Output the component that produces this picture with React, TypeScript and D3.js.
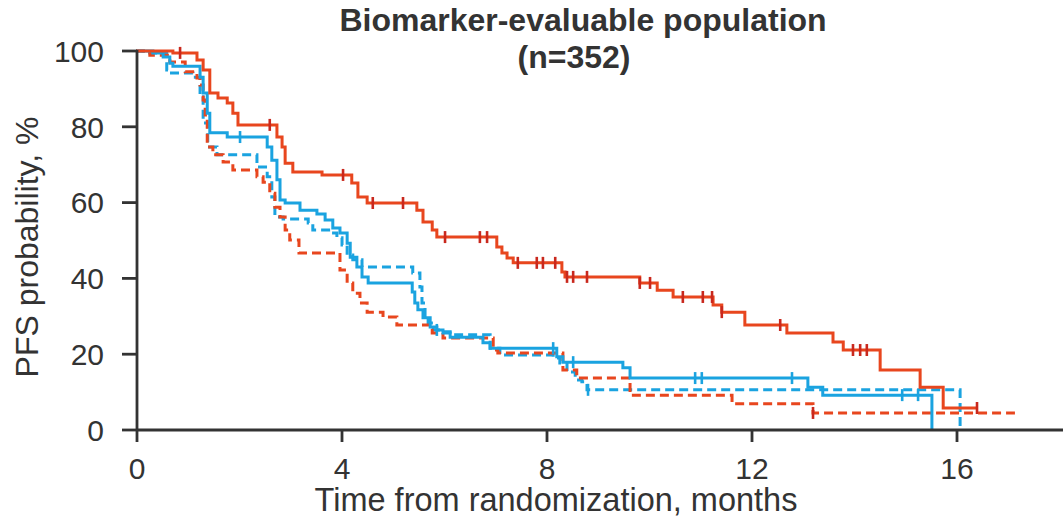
import React from 'react';
import * as d3 from 'd3';

const titleLines = ['Biomarker-evaluable population', '(n=352)'];
const xLabel = 'Time from randomization, months';
const yLabel = 'PFS probability, %';
const xTicks = [0, 4, 8, 12, 16];
const yTicks = [0, 20, 40, 60, 80, 100];

// Red solid arm
const redSolidTime = [0, 0.72, 1.19, 1.31, 1.44, 1.6, 1.78, 1.89, 1.99, 2.75, 2.85, 2.91, 3.06, 3.63, 4.21, 4.33, 4.51, 5.48, 5.6, 5.78, 5.87, 7.04, 7.14, 7.24, 7.36, 8.31, 8.37, 9.83, 10.17, 10.48, 11.26, 11.43, 11.88, 12.7, 13.6, 13.8, 14.52, 15.3, 15.75];
const redSolidSurv = [100, 99.5, 97.6, 95.0, 88.9, 87.6, 86.3, 83.6, 80.5, 77.3, 74.7, 70.4, 68.1, 67.3, 65.2, 61.5, 59.9, 58.0, 54.9, 52.8, 50.9, 48.3, 46.7, 45.4, 44.1, 41.7, 40.4, 38.8, 36.9, 35.1, 33.0, 31.1, 27.7, 25.6, 23.2, 21.1, 15.8, 11.3, 5.8];
const redSolidEnd = 16.41;
const redSolidCensor = [0.86, 2.61, 4.04, 4.62, 5.21, 6.03, 6.71, 6.85, 7.45, 7.82, 7.94, 8.18, 8.41, 8.53, 8.8, 9.83, 10.03, 10.67, 11.06, 11.24, 11.43, 12.57, 13.99, 14.13, 14.26, 16.41];

// Red dashed arm
const redDashTime = [0, 0.27, 0.66, 0.96, 1.19, 1.25, 1.31, 1.35, 1.39, 1.5, 1.7, 1.89, 2.36, 2.48, 2.61, 2.71, 2.81, 2.91, 3.0, 3.18, 3.98, 4.12, 4.23, 4.37, 4.51, 4.82, 5.09, 5.78, 5.99, 6.97, 7.06, 8.33, 8.6, 9.64, 11.63, 13.21];
const redDashSurv = [100, 98.9, 97.1, 94.5, 92.9, 91.0, 87.1, 83.1, 74.7, 72.6, 70.7, 68.6, 66.8, 65.4, 62.5, 58.8, 56.2, 52.8, 50.1, 46.7, 42.2, 38.8, 36.1, 33.5, 31.1, 29.8, 27.7, 25.6, 24.3, 21.1, 20.3, 15.8, 13.7, 9.2, 6.9, 4.5];
const redDashEnd = 17.15;
const redDashCensor = [13.21];

// Blue solid arm
const blueSolidTime = [0, 0.33, 0.53, 0.66, 0.72, 1.25, 1.31, 1.39, 1.44, 1.78, 2.56, 2.65, 2.75, 2.81, 2.91, 3.2, 3.53, 3.69, 3.84, 3.98, 4.12, 4.18, 4.31, 4.41, 4.53, 5.39, 5.44, 5.5, 5.6, 5.74, 5.87, 5.99, 6.13, 6.77, 6.91, 8.21, 8.33, 9.5, 9.64, 13.11, 13.4, 15.53];
const blueSolidSurv = [100, 99.5, 98.4, 96.8, 96.0, 93.1, 88.9, 83.6, 78.4, 77.3, 74.7, 71.2, 66.0, 60.7, 59.9, 58.0, 57.0, 55.4, 53.3, 52.0, 49.3, 45.6, 43.0, 40.4, 38.8, 36.4, 33.5, 31.7, 29.6, 27.2, 26.4, 25.6, 24.5, 23.0, 21.6, 19.3, 17.9, 16.4, 13.7, 11.3, 9.2, 0];
const blueSolidEnd = 15.53;
const blueSolidCensor = [2.03, 5.87, 8.14, 8.53, 10.91, 11.04, 12.8, 14.95, 15.26];

// Blue dashed arm
const blueDashTime = [0, 0.14, 0.6, 0.66, 1.11, 1.25, 1.31, 1.4, 1.58, 2.36, 2.56, 2.65, 2.71, 2.87, 3.36, 3.45, 3.79, 3.92, 4.02, 4.12, 4.23, 4.41, 5.4, 5.54, 5.58, 5.64, 5.7, 5.8, 5.99, 6.13, 6.91, 7.1, 8.14, 8.27, 8.41, 8.57, 8.7, 8.8, 16.08];
const blueDashSurv = [100, 99.5, 95.0, 94.2, 93.1, 87.9, 81.0, 74.7, 72.6, 69.4, 66.8, 61.5, 56.2, 55.7, 54.6, 52.8, 52.0, 50.7, 48.8, 46.2, 44.9, 43.0, 41.4, 37.7, 33.5, 29.8, 28.2, 26.4, 25.9, 25.1, 21.6, 19.8, 19.0, 17.7, 15.3, 13.2, 12.7, 10.6, 0];
const blueDashEnd = 16.08;
const blueDashCensor = [8.82];

const RED = '#E8461E';
const RED_CENSOR = '#C9281D';
const BLUE = '#1AA3E0';
const AXIS = '#333333';
const FONT = 'Liberation Sans, Arial, sans-serif';

type Series = { time: number[]; surv: number[]; end: number; censor: number[]; color: string; censorColor: string; dashed: boolean };

const series: Series[] = [
  { time: blueDashTime, surv: blueDashSurv, end: blueDashEnd, censor: blueDashCensor, color: BLUE, censorColor: BLUE, dashed: true },
  { time: redDashTime, surv: redDashSurv, end: redDashEnd, censor: redDashCensor, color: RED, censorColor: RED_CENSOR, dashed: true },
  { time: blueSolidTime, surv: blueSolidSurv, end: blueSolidEnd, censor: blueSolidCensor, color: BLUE, censorColor: BLUE, dashed: false },
  { time: redSolidTime, surv: redSolidSurv, end: redSolidEnd, censor: redSolidCensor, color: RED, censorColor: RED_CENSOR, dashed: false },
];

export default function App() {
  const W = 1063, H = 520;
  const x = d3.scaleLinear().domain([0, 16]).range([136, 956]);
  const y = d3.scaleLinear().domain([0, 100]).range([430, 51]);
  const line = d3.line<[number, number]>().x(d => x(d[0])).y(d => y(d[1])).curve(d3.curveStepAfter);

  const survAt = (s: Series, t: number) => {
    const i = Math.max(0, d3.bisectRight(s.time, t) - 1);
    return s.surv[i];
  };

  return (
    <svg width={W} height={H} style={{ position: 'absolute', left: 0, top: 0, background: '#fff' }} fontFamily={FONT}>
      {/* title */}
      <text x={583} y={31} textAnchor="middle" fontSize={32} fontWeight="bold" fill={AXIS}>{titleLines[0]}</text>
      <text x={574} y={68} textAnchor="middle" fontSize={32} fontWeight="bold" fill={AXIS}>{titleLines[1]}</text>

      {/* curves */}
      {series.map((s, k) => {
        const pts: [number, number][] = s.time.map((t, i) => [t, s.surv[i]] as [number, number]);
        pts.push([s.end, s.surv[s.surv.length - 1]]);
        return (
          <g key={k}>
            <path d={line(pts) || ''} fill="none" stroke={s.color} strokeWidth={3} strokeDasharray={s.dashed ? '9,5' : undefined} />
            {s.censor.map((c, j) => (
              <line key={j} x1={x(c)} x2={x(c)} y1={y(survAt(s, c)) - 6} y2={y(survAt(s, c)) + 6} stroke={s.censorColor} strokeWidth={2.6} />
            ))}
          </g>
        );
      })}

      {/* axes */}
      <line x1={137} x2={137} y1={50} y2={431} stroke={AXIS} strokeWidth={2.8} />
      <line x1={136} x2={W} y1={430} y2={430} stroke={AXIS} strokeWidth={2.8} />
      {yTicks.map(t => (
        <g key={t}>
          <line x1={122} x2={137} y1={y(t)} y2={y(t)} stroke={AXIS} strokeWidth={2.8} />
          <text x={104} y={y(t)} dy="0.36em" textAnchor="end" fontSize={30} fill={AXIS}>{t}</text>
        </g>
      ))}
      {xTicks.map(t => (
        <g key={t}>
          <line x1={x(t) + 1} x2={x(t) + 1} y1={430} y2={442} stroke={AXIS} strokeWidth={2.8} />
          <text x={x(t) + 1} y={479} textAnchor="middle" fontSize={30} fill={AXIS}>{t}</text>
        </g>
      ))}
      <text x={556} y={511} textAnchor="middle" fontSize={32.5} fill={AXIS}>{xLabel}</text>
      <text transform={`translate(38,247) rotate(-90)`} textAnchor="middle" fontSize={32} fill={AXIS}>{yLabel}</text>
    </svg>
  );
}
